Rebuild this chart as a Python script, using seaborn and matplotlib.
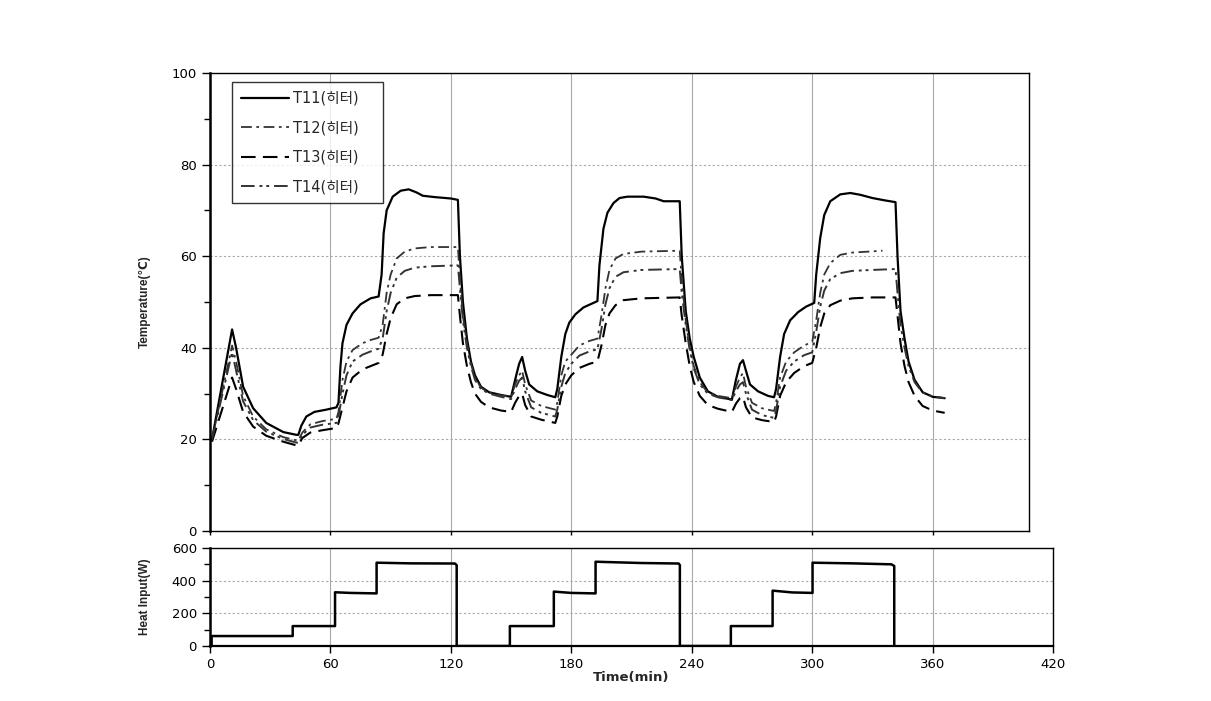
import matplotlib
matplotlib.use("Agg")
import matplotlib.pyplot as plt
import seaborn as sns
import numpy as np
import pandas as pd
from matplotlib.ticker import MultipleLocator

sns.set_style("white")
plt.rcParams['font.family'] = ['DejaVu Sans', 'Noto Sans CJK KR']

# ---------------- data ----------------
t11_time = [1, 11, 13, 16.5, 21.5, 28, 36.5, 43, 44, 45.5, 48, 52, 58, 63, 64, 65, 66, 68, 71, 75, 80, 84,
            85.5, 86.5, 88, 91, 95, 99, 103, 106, 112, 120, 123.5, 124.5, 126, 128, 130, 132, 135, 139, 145, 150,
            152, 154, 155.5, 157, 159, 163, 168, 172, 173, 175, 177, 179, 182, 186, 190, 193, 194, 196, 198, 201,
            204, 208, 216, 222, 226, 234, 235, 237, 239, 241, 244, 248, 253, 260, 262, 264, 265.5, 267, 269, 273,
            278, 281, 282, 284, 286, 289, 293, 297, 301, 302, 304, 306, 309, 314, 319, 324, 330, 336, 341.5,
            342.5, 344, 346, 348, 351, 355, 360, 366]
t11_vals = [20, 44, 40, 31.5, 26.8, 23.6, 21.6, 21, 21, 23, 25, 26, 26.5, 27, 28, 36, 41, 45, 47.5, 49.5, 50.8, 51.2,
            56, 65, 70, 73, 74.3, 74.6, 73.9, 73.2, 72.9, 72.6, 72.3, 60, 50, 42, 37, 34, 31.5, 30.3, 29.7, 29.3,
            33, 36.5, 38, 35, 32, 30.5, 29.7, 29.2, 31, 38, 43, 45.5, 47.3, 48.8, 49.6, 50.2, 58, 66, 69.5, 71.6,
            72.7, 73, 73, 72.6, 72, 72, 60, 48, 42, 38, 33.5, 30.5, 29.3, 28.7, 33, 36.5, 37.3, 35, 32, 30.5,
            29.5, 29.2, 31, 38, 43, 46, 47.8, 49, 49.8, 56, 64, 69, 72, 73.5, 73.8, 73.4, 72.7, 72.2, 71.8,
            60, 48, 42, 37, 33, 30.3, 29.3, 29]

t12_time = [1, 11, 13, 16.5, 21.5, 28, 36.5, 43, 44, 46, 50, 56, 63, 64, 66, 68, 71, 76, 80, 84, 86, 88, 90, 93,
            97, 102, 110, 123.5, 124.5, 126, 128, 130, 132, 135, 139, 145, 150, 152, 154, 155.5, 157, 160, 165,
            172, 173, 175, 177, 180, 184, 189, 193, 195, 197, 199, 202, 206, 215, 234, 235, 237, 239, 241, 244,
            248, 253, 260, 262, 264, 265.5, 267, 270, 275, 281, 282, 284, 287, 291, 296, 300, 302, 304, 306,
            309, 314, 320, 328, 335]
t12_vals = [20, 40.5, 37, 29.5, 25, 22.2, 20.5, 19.8, 19.8, 21.5, 23.3, 24, 24.5, 26, 33, 37, 39.5, 41, 41.7, 42.2,
            45, 52, 56, 59.5, 61, 61.7, 62, 62, 55, 47, 41, 36.5, 33.5, 31.3, 30.2, 29.6, 29.3, 32, 34, 35, 32,
            28.5, 27.3, 26.5, 28, 34, 37, 38.5, 40.5, 41.5, 42, 47, 53, 57, 59.5, 60.5, 61, 61.2, 55, 46, 40,
            36, 32.5, 30.2, 29.5, 29, 31.5, 33.5, 34.5, 31.5, 28, 26.8, 26.2, 28, 33.5, 37, 39, 40.5, 41.3, 46,
            52, 56, 58.5, 60.3, 60.8, 61, 61.2]

t13_time = [1, 11, 13, 16.5, 21.5, 28, 36.5, 43, 44, 46, 50, 56, 63, 64, 66, 68, 71, 76, 80, 84, 86, 88, 90, 93,
            97, 102, 110, 123.5, 124.5, 126, 128, 130, 132, 135, 139, 145, 150, 152, 154, 155.5, 157, 160, 165,
            172, 173, 175, 177, 180, 184, 189, 193, 195, 197, 199, 202, 206, 215, 234, 235, 237, 239, 241, 244,
            248, 253, 260, 262, 264, 265.5, 267, 270, 275, 281, 282, 284, 287, 291, 296, 300, 302, 304, 306,
            309, 314, 320, 330, 341.5, 342.5, 344, 346, 348, 351, 355, 360, 366]
t13_vals = [19.5, 33.5, 31, 26, 22.8, 20.8, 19.5, 18.7, 18.7, 20.3, 21.5, 22, 22.5, 23.5, 27, 30.5, 33.5, 35.3,
            36, 36.7, 38.5, 43, 46.5, 49.5, 50.8, 51.3, 51.5, 51.5, 47, 41, 36, 32.5, 30, 28.2, 27, 26.3, 26,
            28, 29.5, 30, 27.5, 25, 24.3, 23.6, 25, 29.5, 32, 34, 35.6, 36.5, 37, 40.5, 45, 47.5, 49.3, 50.4,
            50.8, 51, 47, 41, 36, 32.5, 29.5, 27.5, 26.7, 26, 27.8, 29, 29.3, 27, 24.8, 24.2, 23.8, 25, 29.5,
            32.5, 34.5, 36, 36.7, 40, 44.5, 47.5, 49.3, 50.3, 50.8, 51, 51, 47, 41, 36, 32.5, 29.5, 27.3,
            26.3, 25.8]

t14_time = [1, 11, 13, 16.5, 21.5, 28, 36.5, 43, 44, 46, 50, 56, 63, 64, 66, 68, 71, 76, 80, 84, 86, 88, 90, 93,
            97, 102, 110, 123.5, 124.5, 126, 128, 130, 132, 135, 139, 145, 150, 152, 154, 155.5, 157, 160, 165,
            172, 173, 175, 177, 180, 184, 189, 193, 195, 197, 199, 202, 206, 215, 234, 235, 237, 239, 241, 244,
            248, 253, 260, 262, 264, 265.5, 267, 270, 275, 281, 282, 284, 287, 291, 296, 300, 302, 304, 306,
            309, 314, 320, 330, 341.5, 342.5, 344, 346, 348, 351, 355, 360, 366]
t14_vals = [20, 39, 35, 28.3, 24.2, 21.7, 20.1, 19.3, 19.3, 21, 22.6, 23.2, 23.6, 25, 30, 34, 37, 38.5, 39.2, 39.8,
            42, 48, 52, 55.3, 56.8, 57.5, 57.8, 58, 53, 46, 40, 36, 33, 31, 30, 29.3, 28.8, 31, 32.8, 33.5, 30.5,
            27, 25.8, 25, 26.5, 31.5, 34.5, 36.5, 38.3, 39.2, 39.7, 44, 49.5, 53, 55.5, 56.5, 57, 57.2, 52, 45,
            39.5, 35.5, 32, 30, 29.2, 28.6, 30.5, 32, 32.5, 30, 26.5, 25.3, 24.7, 26.3, 31.5, 35, 37, 38.4, 39,
            43.5, 49, 52.5, 55, 56.3, 56.8, 57, 57.2, 52, 45, 40, 36, 32.5, 30.2, 29.4, 29]

heat_time = [0, 0.8, 0.8, 41.2, 41.2, 62.3, 62.3, 70, 83, 83, 100, 122, 122.9, 122.9, 149.4, 149.4, 171.3,
             171.3, 180, 192.1, 192.1, 215, 233.5, 234.1, 234.1, 259.5, 259.5, 280.3, 280.3, 290, 300.2,
             300.2, 320, 339.5, 340.9, 340.9]
heat_vals = [0, 0, 61, 61, 122, 122, 329, 325, 322, 510, 506, 505, 495, 0, 0, 122, 122, 333, 325, 322, 516, 508,
             505, 495, 0, 0, 122, 122, 339, 328, 325, 510, 506, 500, 490, 0]

series = [
    ("T11(히터)", t11_time, t11_vals, dict(color="black", lw=1.6, ls="-")),
    ("T12(히터)", t12_time, t12_vals, dict(color="#333333", lw=1.3, ls=(0, (6, 2.5, 1.5, 2.5)))),
    ("T13(히터)", t13_time, t13_vals, dict(color="black", lw=1.5, ls=(0, (7, 3.5)))),
    ("T14(히터)", t14_time, t14_vals, dict(color="#333333", lw=1.4, ls=(0, (7, 2.5, 1.5, 2, 1.5, 2.5)))),
]

label_family = ['Liberation Sans', 'DejaVu Sans', 'Noto Sans CJK KR']

# ---------------- figure ----------------
fig = plt.figure(figsize=(12.11, 7.01), dpi=100)
ax1 = fig.add_axes([210/1211, 1-531/701, 819/1211, 458/701])
ax2 = fig.add_axes([210/1211, 1-646/701, 843/1211, 98/701])

for name, tt, vv, st in series:
    df = pd.DataFrame({"t": tt, "v": vv})
    sns.lineplot(data=df, x="t", y="v", ax=ax1, estimator=None, sort=False,
                 label=name, **st)

dfh = pd.DataFrame({"t": heat_time, "w": heat_vals})
sns.lineplot(data=dfh, x="t", y="w", ax=ax2, estimator=None, sort=False,
             color="black", lw=1.8)

# top axes
ax1.set_xlim(0, 408)
ax1.set_ylim(0, 100)
ax1.xaxis.set_major_locator(MultipleLocator(60))
ax1.yaxis.set_major_locator(MultipleLocator(20))
ax1.yaxis.set_minor_locator(MultipleLocator(10))
ax1.set_xticklabels([])
ax1.set_xlabel("")
ax1.set_ylabel("Temperature(℃)", fontsize=8.5, fontweight="bold", family=label_family, labelpad=15)

# bottom axes
ax2.set_xlim(0, 420)
ax2.set_ylim(0, 600)
ax2.xaxis.set_major_locator(MultipleLocator(60))
ax2.yaxis.set_major_locator(MultipleLocator(200))
ax2.yaxis.set_minor_locator(MultipleLocator(100))
ax2.set_xlabel("Time(min)", fontsize=9.5, fontweight="bold", labelpad=0)
ax2.set_ylabel("Heat Input(W)", fontsize=8.5, fontweight="bold", family=label_family, labelpad=15)

for ax in (ax1, ax2):
    ax.grid(True, axis="x", color="#a8a8a8", lw=0.8, ls="-")
    ax.grid(True, axis="y", color="#a8a8a8", lw=0.8, ls=(0, (2, 2)))
    ax.set_axisbelow(True)
    for s in ax.spines.values():
        s.set_color("black")
        s.set_linewidth(1.0)
    ax.spines["left"].set_linewidth(1.8)
    ax.tick_params(axis="both", which="both", direction="out", labelsize=9.5, colors="black",
                   left=True, bottom=True)
    ax.tick_params(axis="y", which="major", length=6, width=1)
    ax.tick_params(axis="y", which="minor", length=4, width=1)
ax1.tick_params(axis="x", which="major", length=3, width=1)
ax2.tick_params(axis="x", which="major", length=5, width=1)
ax2.spines["bottom"].set_linewidth(1.6)

leg = ax1.legend(loc="upper left", bbox_to_anchor=(22/819, 334/458, 151/819, 115/458), mode="expand",
                 borderaxespad=0, frameon=True, fancybox=False, edgecolor="black", fontsize=10.5,
                 handlelength=3.3, handletextpad=0.3, labelspacing=1.0, borderpad=0.6)
leg.get_frame().set_linewidth(1.0)

fig.savefig("out.png", dpi=100)
